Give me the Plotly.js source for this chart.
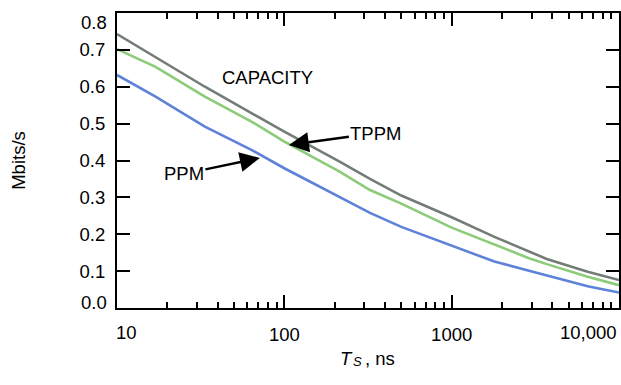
<!DOCTYPE html>
<html>
<head>
<meta charset="utf-8">
<script src="https://cdn.plot.ly/plotly-3.0.1.min.js"></script>
<style>html,body{margin:0;padding:0;background:#fff;}#chart{width:621px;height:385px;}</style>
</head>
<body>
<div id="chart"></div>
<script>
// Symbol period Ts in ns
const tsValues = [10, 17, 33.5, 64, 100, 214, 325, 500, 1000, 1800, 2900, 3700, 6500, 10000];
// Mbits/s
const capacityValues = [0.743, 0.681, 0.600, 0.528, 0.478, 0.397, 0.350, 0.305, 0.246, 0.193, 0.153, 0.133, 0.098, 0.076];
const tppmValues     = [0.702, 0.654, 0.573, 0.505, 0.451, 0.370, 0.320, 0.283, 0.218, 0.172, 0.135, 0.119, 0.085, 0.062];
const ppmValues      = [0.632, 0.573, 0.492, 0.428, 0.379, 0.302, 0.258, 0.220, 0.170, 0.126, 0.101, 0.088, 0.059, 0.042];
const seriesNames = ['CAPACITY', 'TPPM', 'PPM'];
const xTickVals = [10, 100, 1000, 10000];
const xTickLabels = ['10', '100', '1000', '10,000'];
const yTickVals = [0, 0.1, 0.2, 0.3, 0.4, 0.5, 0.6, 0.7, 0.8];
const yTickLabels = ['0.0', '0.1', '0.2', '0.3', '0.4', '0.5', '0.6', '0.7', '0.8'];
const xTitleParts = ['T', 'S', ', ns'];
const yTitle = 'Mbits/s';

const FONT = 'Liberation Sans, Arial, sans-serif';
const FS = 18.5;
const CLEAR = 'rgba(0,0,0,0)';

const lastX = xTickVals.length - 1;
const lastY = yTickVals.length - 1;

const traces = [
  {x: tsValues, y: capacityValues, name: seriesNames[0], mode: 'lines', line: {color: '#737d75', width: 2.6}},
  {x: tsValues, y: tppmValues, name: seriesNames[1], mode: 'lines', line: {color: '#8ccb78', width: 2.6}},
  {x: tsValues, y: ppmValues, name: seriesNames[2], mode: 'lines', line: {color: '#5d82d8', width: 2.6}},
  // empty carrier trace for the label-only axes
  {x: [], y: [], xaxis: 'x2', yaxis: 'y2', mode: 'lines', hoverinfo: 'skip', showlegend: false}
];

const lbl = {family: FONT, size: FS, color: '#000'};
const ital = {family: FONT, size: FS, color: '#000', style: 'italic'};
const italSmall = {family: FONT, size: 13, color: '#000', style: 'italic'};
const annotations = [
  // edge tick labels (kept inside the frame like the original)
  {xref: 'x', yref: 'paper', x: Math.log10(xTickVals[0]), y: 0, text: xTickLabels[0], showarrow: false, xanchor: 'left', yanchor: 'top', xshift: -3, yshift: -12, font: lbl},
  {xref: 'x', yref: 'paper', x: Math.log10(xTickVals[lastX]), y: 0, text: xTickLabels[lastX], showarrow: false, xanchor: 'right', yanchor: 'top', yshift: -12, font: lbl},
  {xref: 'paper', yref: 'y', x: 0, y: yTickVals[0], text: yTickLabels[0], showarrow: false, xanchor: 'right', yanchor: 'bottom', xshift: -8, yshift: -7, font: lbl},
  {xref: 'paper', yref: 'y', x: 0, y: yTickVals[lastY], text: yTickLabels[lastY], showarrow: false, xanchor: 'right', yanchor: 'top', xshift: -8, yshift: 3, font: lbl},
  // x axis title: italic T with italic subscript S, then ", ns"
  {xref: 'paper', yref: 'paper', x: 0.444, y: -0.1695, text: xTitleParts[0], showarrow: false, xanchor: 'left', yanchor: 'middle', xshift: -2, font: ital},
  {xref: 'paper', yref: 'paper', x: 0.47, y: -0.182, text: xTitleParts[1], showarrow: false, xanchor: 'left', yanchor: 'middle', xshift: -2, font: italSmall},
  {xref: 'paper', yref: 'paper', x: 0.494, y: -0.1695, text: xTitleParts[2], showarrow: false, xanchor: 'left', yanchor: 'middle', xshift: -2, font: lbl},
  // series labels
  {xref: 'x', yref: 'y', x: 1.8985, y: 0.625, text: seriesNames[0], showarrow: false, font: lbl},
  {xref: 'x', yref: 'y', x: 2.027, y: 0.442, text: seriesNames[1], showarrow: true, ax: 87, ay: -12,
   arrowhead: 2, arrowsize: 1.6, arrowwidth: 2.5, arrowcolor: '#000', font: lbl},
  {xref: 'x', yref: 'y', x: 1.854, y: 0.407, text: seriesNames[2], showarrow: true, ax: -76, ay: 16,
   arrowhead: 2, arrowsize: 1.6, arrowwidth: 2.5, arrowcolor: '#000', font: lbl}
];

const layout = {
  width: 621, height: 385,
  margin: {l: 117, r: 2, t: 13, b: 77},
  paper_bgcolor: '#fff', plot_bgcolor: '#fff',
  showlegend: false,
  font: lbl,
  // frame + tick marks
  xaxis: {
    type: 'log', range: [1, 4],
    tickmode: 'array', tickvals: xTickVals, showticklabels: false,
    ticks: 'inside', ticklen: 13, tickwidth: 1.5, tickcolor: '#000',
    minor: {ticks: 'inside', ticklen: 6, tickcolor: '#000', dtick: 'D1'},
    showline: true, linecolor: '#000', linewidth: 2, mirror: 'ticks',
    showgrid: false, zeroline: false
  },
  yaxis: {
    range: [0, 0.8],
    tickmode: 'array', tickvals: yTickVals, showticklabels: false,
    ticks: 'inside', ticklen: 13, tickwidth: 1.5, tickcolor: '#000',
    showline: true, linecolor: '#000', linewidth: 2, mirror: 'ticks',
    showgrid: false, zeroline: false
  },
  // tick labels + y title
  xaxis2: {
    type: 'log', range: [1, 4], overlaying: 'x', side: 'bottom', anchor: 'y2',
    tickmode: 'array', tickvals: xTickVals.slice(1, lastX), ticktext: xTickLabels.slice(1, lastX),
    ticks: 'outside', ticklen: 10, tickcolor: CLEAR,
    showline: false, showgrid: false, zeroline: false
  },
  yaxis2: {
    range: [0, 0.8], overlaying: 'y', side: 'left', anchor: 'x2',
    tickmode: 'array', tickvals: yTickVals.slice(1, lastY), ticktext: yTickLabels.slice(1, lastY),
    ticks: 'outside', ticklen: 7, tickcolor: CLEAR,
    showline: false, showgrid: false, zeroline: false,
    title: {text: yTitle, font: lbl, standoff: 49}
  },
  annotations: annotations
};

Plotly.newPlot('chart', traces, layout, {displayModeBar: false});
</script>
</body>
</html>
